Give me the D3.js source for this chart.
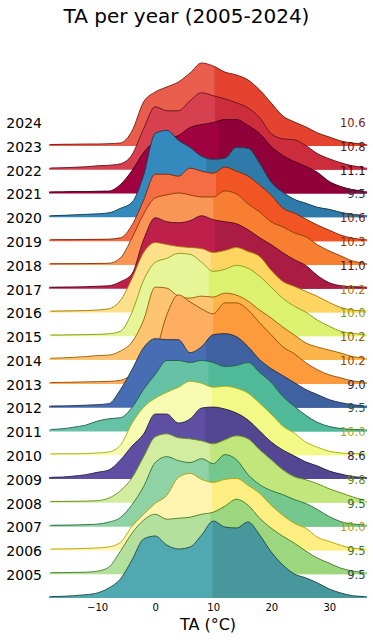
<!DOCTYPE html>
<html>
<head>
<meta charset="utf-8">
<script src="https://cdn.jsdelivr.net/npm/d3@7"></script>
<style>
  body { margin: 0; background: #fff; }
  text { font-family: "DejaVu Sans", sans-serif; }
</style>
</head>
<body>
<div id="my_dataviz"></div>
<script>
// temperature grid (°C) where the density curves were read
var temps = [-18, -16, -14, -12, -10, -8, -6, -4, -2, 0, 2, 4, 6, 8, 10, 12, 14, 16, 18, 20, 22, 24, 26, 28, 30, 32, 34, 36];

var years = [2005, 2006, 2007, 2008, 2009, 2010, 2011, 2012, 2013, 2014, 2015, 2016, 2017, 2018, 2019, 2020, 2021, 2022, 2023, 2024];
var means = [9.5, 9.5, 10.0, 9.5, 9.8, 8.6, 10.0, 9.5, 9.0, 10.2, 10.2, 10.0, 10.2, 11.0, 10.3, 10.6, 9.5, 11.1, 10.8, 10.6];
// where the fill changes shade
var medians = [9.9, 9.5, 9.8, 9.2, 9.5, 8.6, 9.8, 9.2, 8.8, 10.0, 10.0, 9.2, 9.6, 10.3, 10.0, 10.5, 8.8, 10.9, 10.3, 10.2];

// relative density per year, one value per temps entry
var d2005 = [0.3, 0.7, 1.3, 2.3, 4, 9, 18, 37, 58, 61, 52, 48, 50, 62, 76, 70, 69, 75, 62, 45, 32, 23, 19, 14, 8, 4, 1.3, 0.5];
var d2006 = [0.5, 0.6, 0.8, 1, 2, 6, 22, 40, 53, 59, 54, 55, 56, 59, 61, 67, 74, 68, 55, 45, 37, 30, 22, 15, 10, 5, 2.3, 0.8];
var d2007 = [0.3, 0.5, 0.7, 1, 1.5, 2.5, 7, 23, 35, 46, 54, 72, 76, 70, 67, 70, 71, 64, 56, 44, 34, 26, 21, 12, 8, 4, 1.3, 0.5];
var d2008 = [0.3, 0.4, 0.6, 1, 1.5, 3.5, 8, 21, 39, 63, 69, 65, 63, 67, 62, 71, 66, 51, 41, 35, 31, 26, 22, 16, 9, 4, 1.7, 0.7];
var d2009 = [0.3, 0.4, 0.5, 0.7, 1.2, 3.7, 11, 24, 45, 65, 68, 64, 63, 61, 58, 62, 66, 63, 52, 42, 32, 25, 22, 18, 13, 9, 5, 1.5];
var d2010 = [0.7, 1, 2, 3.3, 5.7, 8, 18, 32, 44, 64, 64, 55, 59, 70, 71, 69, 65, 58, 47, 36, 28, 22, 16, 12, 7, 4, 1.5, 0.5];
var d2011 = [0.3, 0.5, 0.5, 0.7, 1.3, 2.3, 9, 31, 47, 56, 62, 67, 73, 71, 67, 68, 66, 61, 51, 40, 28, 21, 12, 7, 3, 1.3, 0.7, 0.3];
var d2012 = [1, 1.7, 3.3, 5.3, 9.3, 11.7, 12.7, 23, 41, 56, 70, 70, 68, 70, 68, 64, 65, 68, 58, 48, 34, 24, 15, 8, 4, 2, 1, 0.5];
var d2013 = [0.5, 0.7, 1, 1.5, 2, 3, 17, 37, 59, 68, 67, 67, 54, 60, 72, 73, 70, 60, 47, 38, 31, 24, 17, 12, 7, 4, 2, 0.7];
var d2014 = [0.3, 0.5, 0.7, 1, 1.2, 1.5, 2.5, 8, 16, 30, 68, 88, 81, 74, 69, 80, 80, 73, 60, 48, 36, 29, 20, 13, 8, 5, 2, 1];
var d2015 = [0.8, 1.2, 1.8, 2.5, 3.5, 4, 8, 17, 39, 72, 71, 63, 61, 63, 62, 66, 64, 58, 49, 41, 32, 24, 16, 12, 9, 6, 2.5, 1];
var d2016 = [0.2, 0.3, 0.5, 0.7, 1, 1.5, 4, 23, 55, 73, 77, 82, 81, 73, 64, 66, 70, 67, 59, 48, 37, 29, 23, 15, 9, 4, 2, 0.7];
var d2017 = [0.3, 0.5, 0.7, 1, 1.5, 2.7, 11, 33, 59, 69, 67, 65, 64, 63, 59, 61, 64, 60, 55, 41, 30, 25, 20, 15, 9, 4, 1.5, 0.5];
var d2018 = [0.3, 0.5, 0.7, 1, 1.5, 2, 6, 14, 48, 70, 66, 65, 67, 72, 68, 66, 64, 58, 50, 43, 35, 28, 22, 12, 5, 2, 1, 0.5];
var d2019 = [0.2, 0.2, 0.3, 0.4, 0.5, 0.7, 6, 26, 50, 66, 69, 71, 69, 67, 67, 73, 70, 60, 52, 42, 37, 31, 27, 19, 13, 8, 3, 1];
var d2020 = [0.3, 0.5, 0.5, 0.7, 0.8, 1, 2.3, 15, 40, 66, 66, 64, 72, 69, 67, 73, 69, 64, 55, 45, 32, 27, 21, 15, 10, 5, 2, 0.7];
var d2021 = [0.5, 1, 1.5, 2, 2.5, 3.5, 8, 14, 41, 83, 86, 76, 69, 60, 57, 58, 69, 68, 53, 34, 24, 17, 13, 9, 7, 4, 2, 1];
var d2022 = [0.5, 0.7, 1, 1, 1.3, 1.5, 8, 22, 40, 51, 54, 57, 65, 68, 70, 73, 73, 67, 59, 46, 37, 31, 26, 20, 11, 6, 3, 1.5];
var d2023 = [0.7, 1, 1.5, 2, 3, 3.5, 5, 14, 40, 62, 58, 58, 68, 76, 73, 70, 66, 61, 51, 35, 30, 29, 23, 15, 10, 6, 3, 1.5];
var d2024 = [0.5, 0.7, 0.8, 1, 1, 1.3, 2, 14, 43, 53, 58, 63, 72, 82, 79, 73, 70, 65, 55, 42, 29, 23, 18, 12, 8, 4, 2, 1];

var densities = [d2005, d2006, d2007, d2008, d2009, d2010, d2011, d2012, d2013, d2014,
                 d2015, d2016, d2017, d2018, d2019, d2020, d2021, d2022, d2023, d2024];

var colors = ["#50a9b0", "#b4e09d", "#fff5b0", "#8fd3a4", "#d2eda0", "#5e4fa2", "#f7fbb2", "#66c2a5", "#476db2", "#fdae61",
              "#fdc571", "#e6f598", "#fee08b", "#be1f4b", "#f99555", "#f46d43", "#3489bd", "#a0013f", "#d6404f", "#e85d4c"];

var width = 373, height = 640;
var plotLeft = 49, plotRight = 367;

var svg = d3.select("#my_dataviz")
    .append("svg")
    .attr("width", width)
    .attr("height", height);

var defs = svg.append("defs");

defs.append("clipPath").attr("id", "plotclip")
    .append("rect").attr("x", plotLeft).attr("y", 0)
    .attr("width", plotRight - plotLeft).attr("height", height);

var x = d3.scaleLinear()
    .domain([-18.3, 36.5])
    .range([plotLeft, plotRight]);

// baseline of each ridge
var yBase = d3.scalePoint()
    .domain(years)
    .range([597, 145]);

// ridge height in px
var h = d3.scaleLinear()
    .domain([0, 100])
    .range([0, 100]);

// top ridge first, lower ones drawn over it
var order = years.slice().reverse();

order.forEach(function (year) {
    var i = years.indexOf(year);
    var base = yBase(year);
    var pts = temps.map(function (t, j) { return { t: t, v: densities[i][j] }; });

    var c = d3.hsl(colors[i]);
    var cRight = d3.hsl(c.h, c.s, c.l / 1.12).formatHex();
    var cDark = d3.hsl(c.h, c.s, c.l * 0.42).formatHex();

    var area = d3.area()
        .x(function (d) { return x(d.t); })
        .y0(base)
        .y1(function (d) { return base - h(d.v); })
        .curve(d3.curveMonotoneX);

    var split = x(medians[i]);
    defs.append("clipPath").attr("id", "cr" + year)
        .append("rect").attr("x", split).attr("y", 0)
        .attr("width", plotRight - split).attr("height", height);

    var g = svg.append("g").attr("clip-path", "url(#plotclip)");

    // whole ridge in the light shade, then the right part darker
    g.append("line")
        .attr("x1", plotLeft).attr("x2", plotRight)
        .attr("y1", base).attr("y2", base)
        .attr("stroke", colors[i])
        .attr("stroke-width", 2);
    g.append("path")
        .datum(pts)
        .attr("d", area)
        .attr("fill", colors[i]);

    var r = g.append("g").attr("clip-path", "url(#cr" + year + ")");
    r.append("line")
        .attr("x1", plotLeft).attr("x2", plotRight)
        .attr("y1", base).attr("y2", base)
        .attr("stroke", cRight)
        .attr("stroke-width", 2);
    r.append("path")
        .datum(pts)
        .attr("d", area)
        .attr("fill", cRight);

    g.append("path")
        .datum(pts)
        .attr("d", area.lineY1())
        .attr("fill", "none")
        .attr("stroke", cDark)
        .attr("stroke-width", 0.9);
});

// year labels and mean values
years.forEach(function (year, i) {
    var c = d3.hsl(colors[i]);
    var cDark = d3.hsl(c.h, c.s, c.l * 0.42).formatHex();
    var yl = yBase(year) - 22;

    svg.append("text")
        .attr("x", 42)
        .attr("y", yl)
        .attr("dominant-baseline", "central")
        .attr("text-anchor", "end")
        .style("font-size", "14px")
        .attr("fill", "#000")
        .text(year);

    svg.append("text")
        .attr("x", 365.5)
        .attr("y", yl)
        .attr("dominant-baseline", "central")
        .attr("text-anchor", "end")
        .style("font-size", "11.5px")
        .attr("fill", cDark)
        .text(d3.format(".1f")(means[i]));
});

// x axis
var axis = svg.append("g")
    .attr("transform", "translate(0,597)")
    .call(d3.axisBottom(x).tickValues([-10, 0, 10, 20, 30]).tickSize(0).tickPadding(7));
axis.select(".domain").remove();
axis.selectAll("text")
    .attr("font-family", "DejaVu Sans")
    .style("font-size", "10px")
    .attr("fill", "#000");

svg.append("text")
    .attr("x", 208)
    .attr("y", 630)
    .attr("text-anchor", "middle")
    .style("font-size", "16px")
    .text("TA (°C)");

svg.append("text")
    .attr("x", 186.5)
    .attr("y", 23)
    .attr("text-anchor", "middle")
    .style("font-size", "20px")
    .text("TA per year (2005-2024)");
</script>
</body>
</html>
